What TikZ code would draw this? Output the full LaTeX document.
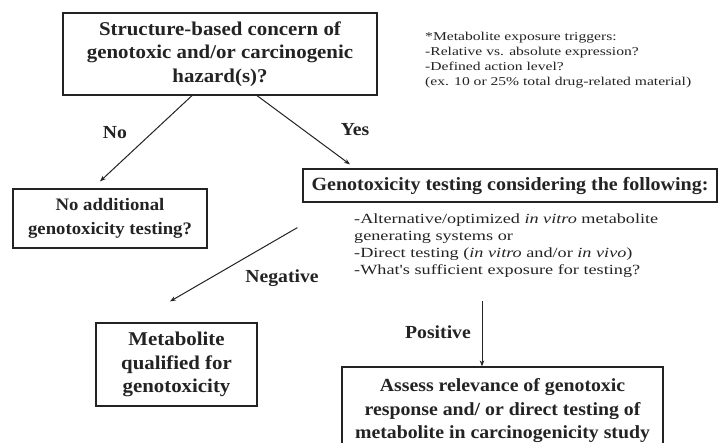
\documentclass[tikz,border=0pt]{standalone}
\usepackage{fontspec}
\setmainfont{Liberation Serif}
\newfontfamily\regfont[FakeStretch=1.3]{Liberation Serif}
\newfontfamily\bldfont[FakeStretch=1.07]{Liberation Serif}
\usetikzlibrary{arrows.meta,calc}
\definecolor{ink}{RGB}{35,35,35}
\begin{document}
\begin{tikzpicture}[x=1pt,y=-1pt,
  box/.style={draw=ink, line width=1.2pt, inner sep=0pt, align=center, text=ink},
  bf/.style={font=\bldfont\fontsize{#1}{23.5}\selectfont\bfseries},
  lab/.style={text=ink, font=\bldfont\fontsize{18.4}{20}\selectfont\bfseries, inner sep=0pt},
  conn/.style={draw=ink, line width=1pt, -{Stealth[length=6pt,width=4.5pt]}},
  note/.style={text=ink, align=left, inner sep=0pt, anchor=north west}]
\useasboundingbox (0,0) rectangle (719,443);
\clip (0,0) rectangle (719,443);
\fill[white] (0,0) rectangle (719,443);

\node[box, bf=19.5, minimum width=314pt, minimum height=82pt] (top) at (220,54)
  {Structure-based concern of\\genotoxic and/or carcinogenic\\hazard(s)?};
\node[box, bf=17.5, minimum width=194pt, minimum height=59pt] (left) at (110,218.5)
  {No additional\\genotoxicity testing?};
\node[box, bf=18.7, minimum width=414pt, minimum height=33pt] (geno) at (510,185.5)
  {Genotoxicity testing considering the following:};
\node[box, bf=19.5, minimum width=161pt, minimum height=83pt] (metab) at (176.5,364.5)
  {Metabolite\\qualified for\\genotoxicity};
\node[box, bf=18.5, minimum width=321pt, minimum height=88pt] (assess) at (502.5,411)
  {Assess relevance of genotoxic\\response and/ or direct testing of\\metabolite in carcinogenicity study};

\node[note, font=\regfont\fontsize{12}{15}\selectfont] (trig) at (425,31.5)
  {*Metabolite exposure triggers:\\-Relative vs. absolute expression?\\-Defined action level?\\(ex. 10 or 25\% total drug-related material)};
\node[note, font=\regfont\fontsize{14}{17}\selectfont] (bul) at (354,214)
  {-Alternative/optimized \textit{in vitro} metabolite\\generating systems or\\-Direct testing (\textit{in vitro} and/or \textit{in vivo})\\-What's sufficient exposure for testing?};

\node[lab] (lno) at (115,133) {No};
\node[lab] (lyes) at (355,130) {Yes};
\node[lab] (lneg) at (282,278) {Negative};
\node[lab] (lpos) at (438,332) {Positive};

\draw[conn] ($(top.south)+(-28,0)$) -- ($(left.north)+(-10,-7)$);
\draw[conn] ($(top.south)+(37,0)$) -- ($(geno.north)+(-160,-4)$);
\draw[conn] ($(geno.south west)+(-5,25)$) -- ($(metab.north)+(-6.5,-21)$);
\draw[conn] ($(assess.north)+(-20.5,-65)$) -- ($(assess.north)+(-20.5,0)$);
\end{tikzpicture}
\end{document}
